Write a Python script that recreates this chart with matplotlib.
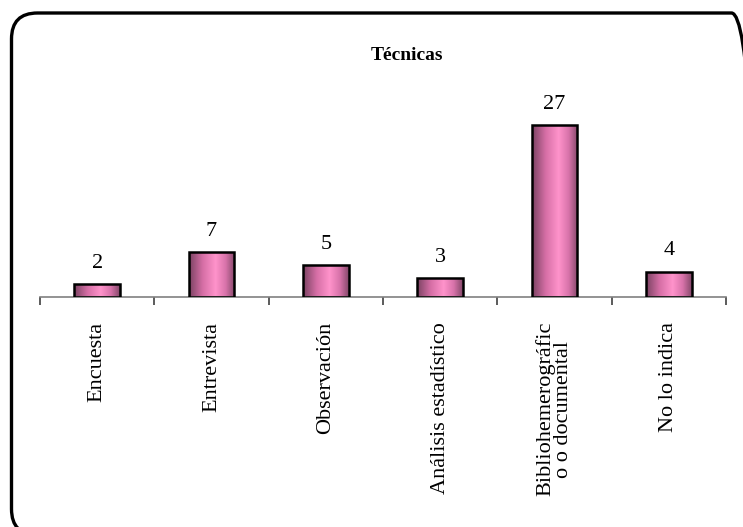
import numpy as np
import matplotlib
matplotlib.use("Agg")
import matplotlib.pyplot as plt
from matplotlib.colors import LinearSegmentedColormap
from matplotlib.patches import FancyBboxPatch

plt.rcParams['font.family'] = ['Liberation Serif', 'DejaVu Serif']

# Datos
categorias = ['Encuesta', 'Entrevista', 'Observación', 'Análisis estadístico',
              'Bibliohemerográfic\no o documental', 'No lo indica']
valores = [2, 7, 5, 3, 27, 4]

# degradado horizontal tipo cilindro para las barras
rosa = LinearSegmentedColormap.from_list(
    'rosa', [(0.0, '#7a4262'), (0.3, '#d66fa6'), (0.58, '#ff93cb'),
             (0.8, '#d873aa'), (1.0, '#84486a')])
gradiente = np.linspace(0, 1, 256).reshape(1, -1)

fig = plt.figure(figsize=(7.43, 5.27), dpi=100)

# marco redondeado en pulgadas (se sale por la derecha y por abajo)
marco = FancyBboxPatch((0.115, -0.08), 7.46, 5.22,
                       boxstyle="round,pad=0,rounding_size=0.26",
                       transform=fig.dpi_scale_trans, fill=False,
                       edgecolor='black', linewidth=2.4)
fig.add_artist(marco)

ax = fig.add_axes([40 / 743, 1 - 297 / 527, 686 / 743, 210 / 527])
ax.patch.set_alpha(0)

x = np.arange(len(categorias))
barras = ax.bar(x, valores, width=0.4, color='none', edgecolor='black',
                linewidth=1.8, zorder=3)
for b in barras:
    x0, y0 = b.get_x(), b.get_y()
    im = ax.imshow(gradiente, cmap=rosa, aspect='auto', zorder=2,
                   extent=(x0, x0 + b.get_width(), y0, y0 + b.get_height()))
    im.set_clip_path(b)

for xi, v in zip(x, valores):
    ax.annotate(str(v), (xi, v), xytext=(0, 8), textcoords='offset points',
                ha='center', va='bottom', fontsize=16)

ax.set_xlim(-0.5, len(categorias) - 0.5)
ax.set_ylim(0, 33)

for lado in ['top', 'right', 'left']:
    ax.spines[lado].set_visible(False)
ax.spines['bottom'].set_color('#808080')
ax.spines['bottom'].set_linewidth(1.2)
ax.set_yticks([])

ax.set_xticks(x)
ax.set_xticklabels(categorias, rotation=90, fontsize=16, ha='center',
                   va='top', multialignment='center', linespacing=0.9)
ax.tick_params(axis='x', which='major', length=0, pad=18)
ax.set_xticks(np.arange(-0.5, len(categorias), 1), minor=True)
ax.tick_params(axis='x', which='minor', length=6, width=1.2, color='#404040',
               direction='out')

fig.text(407 / 743, 1 - 55 / 527, 'Técnicas', ha='center', va='center',
         fontsize=14, fontweight='bold')

fig.savefig('out.png', dpi=100)
